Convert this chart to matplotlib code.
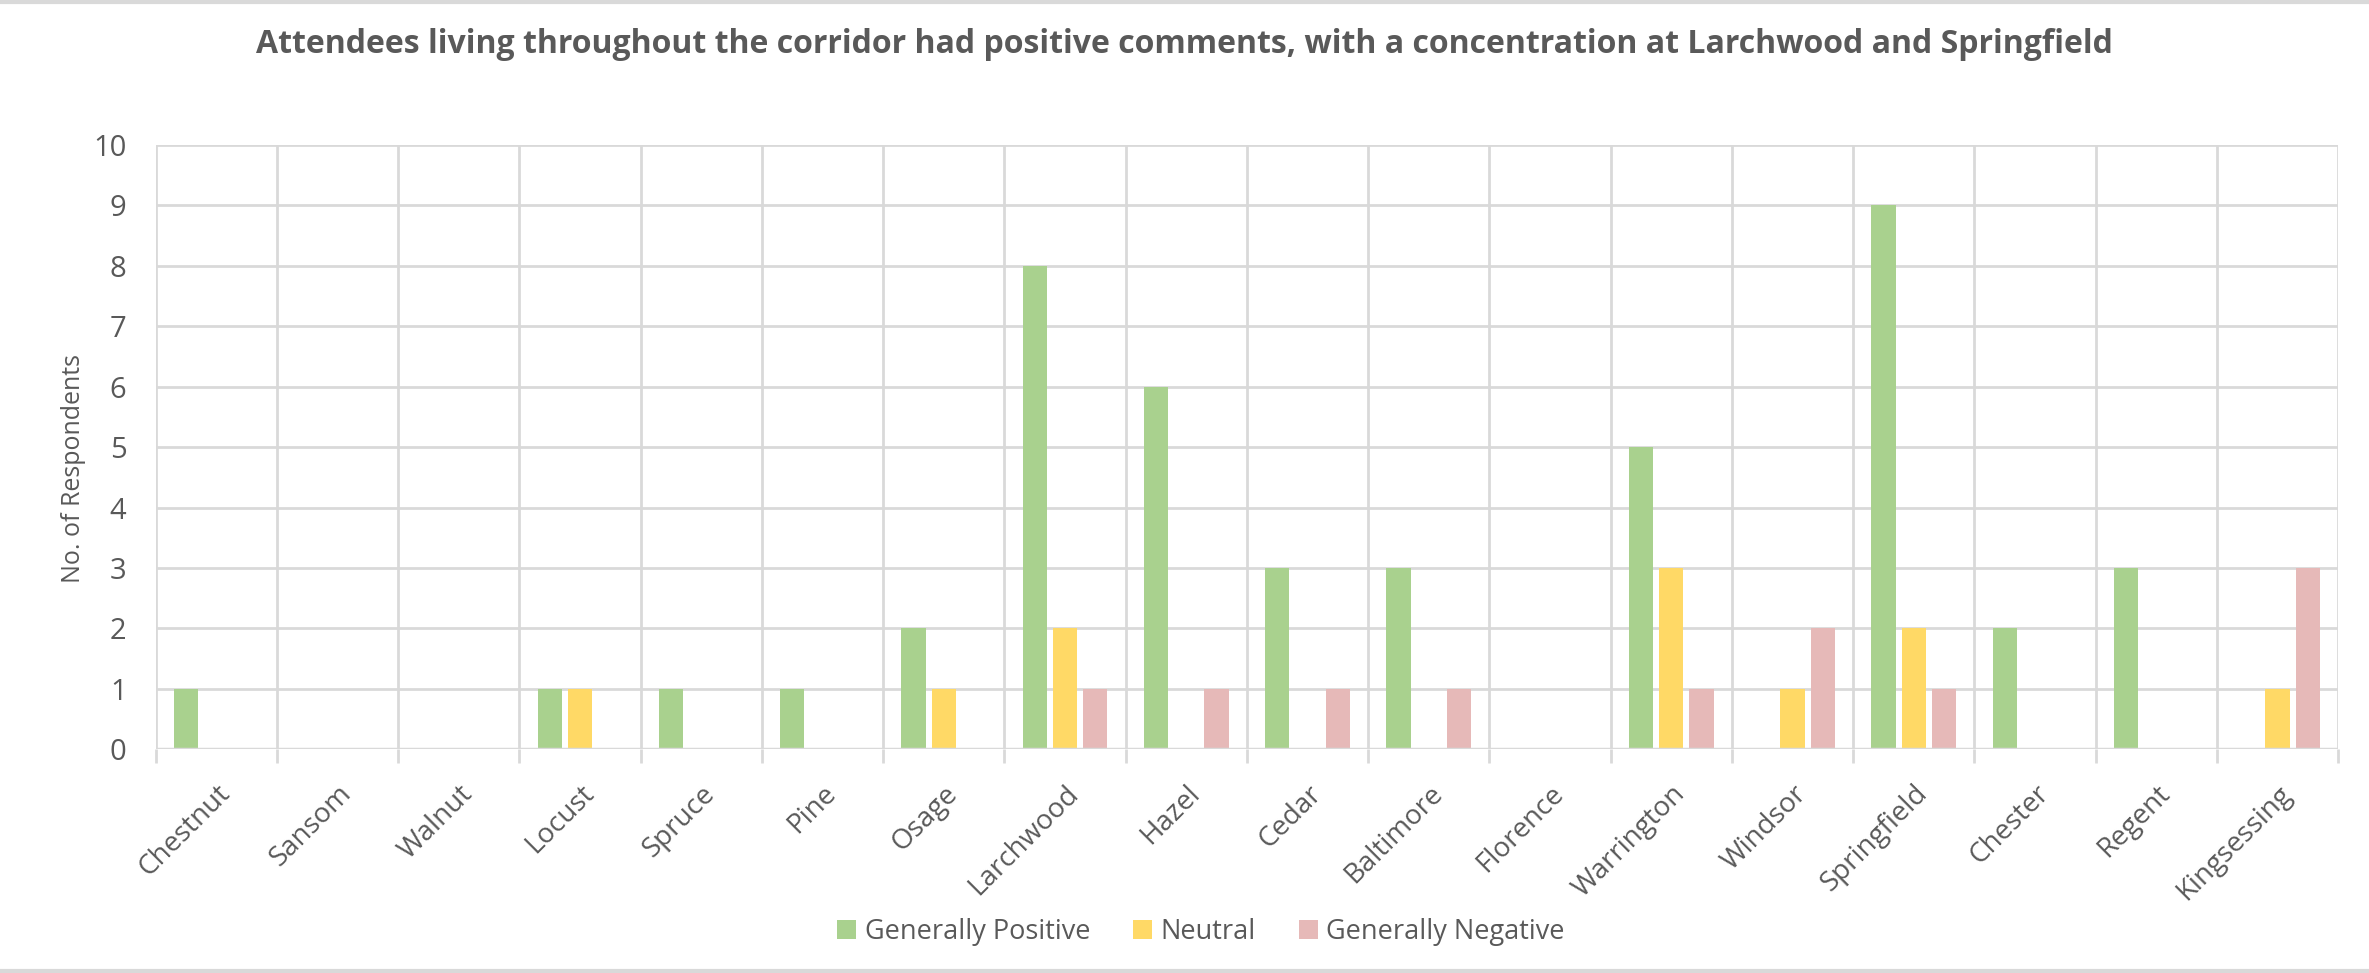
import numpy as np
import matplotlib as mpl
import matplotlib.pyplot as plt

mpl.rcParams['font.family'] = ['Open Sans', 'DejaVu Sans']

streets = ['Chestnut', 'Sansom', 'Walnut', 'Locust', 'Spruce', 'Pine', 'Osage',
           'Larchwood', 'Hazel', 'Cedar', 'Baltimore', 'Florence', 'Warrington',
           'Windsor', 'Springfield', 'Chester', 'Regent', 'Kingsessing']
positive = [1, 0, 0, 1, 1, 1, 2, 8, 6, 3, 3, 0, 5, 0, 9, 2, 3, 0]
neutral = [0, 0, 0, 1, 0, 0, 1, 2, 0, 0, 0, 0, 3, 1, 2, 0, 0, 1]
negative = [0, 0, 0, 0, 0, 0, 0, 1, 1, 1, 1, 0, 1, 2, 1, 0, 0, 3]

series = [('Generally Positive', positive, '#A9D18E'),
          ('Neutral', neutral, '#FFD966'),
          ('Generally Negative', negative, '#E6B9B8')]

TEXT = '#595959'
GRID = '#D9D9D9'

fig = plt.figure(figsize=(23.69, 9.73), dpi=100)
ax = fig.add_axes([0.0657, 0.230, 0.9213, 0.621])

x = np.arange(len(streets))
for i, (name, vals, color) in enumerate(series):
    ax.bar(x + (i - 1) * 0.25, vals, width=0.2, color=color, label=name, zorder=3)

ax.set_xlim(-0.5, len(streets) - 0.5)
ax.set_ylim(0, 10)
ax.set_yticks(range(0, 11))

# category separators as vertical grid, integer lines as horizontal grid
ax.set_xticks(np.arange(-0.5, len(streets)), minor=False)
ax.set_xticklabels([])
ax.set_xticks(x, minor=True)
ax.set_xticklabels(streets, minor=True, rotation=45, ha='right',
                   rotation_mode='anchor', fontsize=20, color=TEXT)
ax.tick_params(axis='x', which='major', length=10, width=2, color=GRID)
ax.tick_params(axis='x', which='minor', length=0, pad=22)
ax.tick_params(axis='y', length=0, labelsize=21, labelcolor=TEXT, pad=21)

ax.grid(True, which='major', color=GRID, linewidth=2, zorder=0)
for s in ax.spines.values():
    s.set_visible(False)
ax.axhline(0, color=GRID, linewidth=2.5, zorder=4)

ax.set_ylabel('No. of Respondents', fontsize=18, color=TEXT)
ax.yaxis.set_label_coords(-0.032, 0.465)

fig.suptitle('Attendees living throughout the corridor had positive comments, '
             'with a concentration at Larchwood and Springfield',
             y=0.954, va='center', fontsize=23, fontweight='bold', color=TEXT)

fig.legend(loc='center', bbox_to_anchor=(0.507, 0.042), ncol=3, frameon=False,
           fontsize=19.5, labelcolor=TEXT, handlelength=0.7, handleheight=0.7,
           handletextpad=0.3, columnspacing=1.6)

# thin rules at the top and bottom edges of the picture
fig.add_artist(plt.Line2D([0, 1], [0.998, 0.998], color=GRID, linewidth=3))
fig.add_artist(plt.Line2D([0, 1], [0.002, 0.002], color=GRID, linewidth=3))

fig.savefig('out.png', dpi=100)
